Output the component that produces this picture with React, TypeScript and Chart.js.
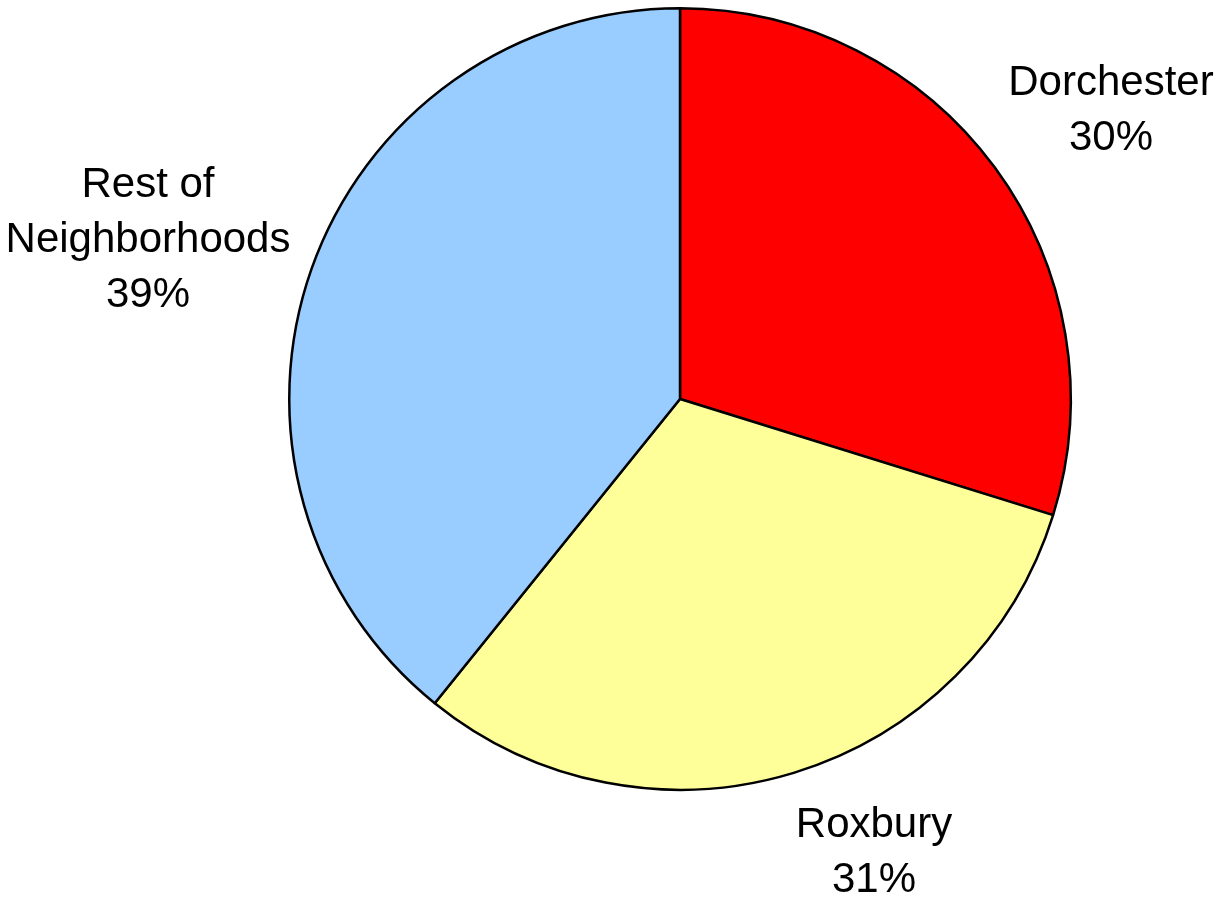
import React, { useEffect, useRef } from "react";
import { Chart, registerables } from "chart.js";

Chart.register(...registerables);

const categories = ["Dorchester", "Roxbury", "Rest of Neighborhoods"];
const labelLines = [["Dorchester"], ["Roxbury"], ["Rest of", "Neighborhoods"]];
const shares = [29.8, 31.0, 39.2];
const colors = ["#FF0000", "#FFFF99", "#99CCFF"];

// label placement relative to each slice (radial factor, angle tweak in degrees)
const labelRadial = [1.3315, 1.2553, 1.4232];
const labelAngleTweak = [2.29, -6.38, -2.5];

const FONT_SIZE = 42;
const LINE_H = 55;

const labelPlugin = {
  id: "outsideLabels",
  afterDatasetsDraw(chart: any) {
    const ctx = chart.ctx as CanvasRenderingContext2D;
    const meta = chart.getDatasetMeta(0);
    const total = shares.reduce((a, b) => a + b, 0);
    ctx.save();
    ctx.fillStyle = "#000";
    ctx.font = `${FONT_SIZE}px 'Liberation Sans', Arial, sans-serif`;
    ctx.textAlign = "center";
    ctx.textBaseline = "alphabetic";
    meta.data.forEach((arc: any, i: number) => {
      const { x, y, startAngle, endAngle, outerRadius } = arc.getProps(
        ["x", "y", "startAngle", "endAngle", "outerRadius"],
        true
      );
      const mid = (startAngle + endAngle) / 2 + (labelAngleTweak[i] * Math.PI) / 180;
      const r = outerRadius * labelRadial[i];
      const cx = x + Math.cos(mid) * r;
      const cy = y + Math.sin(mid) * r;
      const pct = Math.round((shares[i] / total) * 100);
      const lines = [...labelLines[i], `${pct}%`];
      const n = lines.length;
      const cap = FONT_SIZE * 0.716;
      lines.forEach((t, k) => {
        const by = cy + (k - (n - 1) / 2) * LINE_H + cap / 2;
        ctx.fillText(t, cx, by);
      });
    });
    ctx.restore();
  },
};

export default function App() {
  const ref = useRef<HTMLCanvasElement>(null);
  useEffect(() => {
    if (!ref.current) return;
    const chart = new Chart(ref.current, {
      type: "pie",
      data: {
        labels: categories,
        datasets: [
          {
            data: shares,
            backgroundColor: colors,
            borderColor: "#000000",
            borderWidth: 2.5,
          },
        ],
      },
      options: {
        animation: false,
        responsive: false,
        devicePixelRatio: 1,
        layout: { padding: { left: 288, right: 150, top: 7, bottom: 106 } },
        plugins: {
          legend: { display: false },
          tooltip: { enabled: false },
        },
      },
      plugins: [labelPlugin],
    });
    return () => chart.destroy();
  }, []);
  return (
    <div style={{ position: "absolute", left: 0, top: 0, width: 1222, height: 897, background: "#fff" }}>
      <canvas ref={ref} width={1222} height={897} />
    </div>
  );
}
